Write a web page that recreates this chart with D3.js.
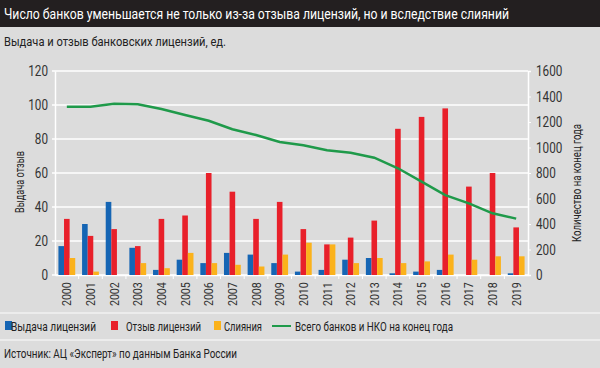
<!DOCTYPE html>
<html>
<head>
<meta charset="utf-8">
<script src="https://cdn.jsdelivr.net/npm/d3@7"></script>
<style>
  body { margin: 0; background: #dcdcdc; }
  svg text { font-family: "Roboto", "Liberation Sans", sans-serif; }
</style>
</head>
<body>
<div id="chart"></div>
<script>
var years = ["2000","2001","2002","2003","2004","2005","2006","2007","2008","2009",
             "2010","2011","2012","2013","2014","2015","2016","2017","2018","2019"];
var issued  = [17, 30, 43, 16, 3, 9, 7, 13, 12, 7, 2, 3, 9, 10, 1, 2, 3, 0, 0, 1];
var revoked = [33, 23, 27, 17, 33, 35, 60, 49, 33, 43, 27, 18, 22, 32, 86, 93, 98, 52, 60, 28];
var mergers = [10, 2, 0, 7, 4, 13, 7, 6, 5, 12, 19, 18, 7, 10, 7, 8, 12, 9, 11, 11];
var totalBanks = [1320, 1320, 1343, 1339, 1302, 1255, 1210, 1143, 1098, 1043,
                  1017, 978, 959, 920, 837, 732, 627, 562, 484, 442];
var leftTicks = [0, 20, 40, 60, 80, 100, 120];
var rightTicks = [0, 200, 400, 600, 800, 1000, 1200, 1400, 1600];

var W = 600, H = 368;
var margin = {top: 71, right: 72, bottom: 93, left: 55},
    width = W - margin.left - margin.right,
    height = H - margin.top - margin.bottom;

// squeeze text horizontally to mimic the condensed face of the original
function squeeze(sel, k) {
  sel.each(function() {
    var w = this.getComputedTextLength();
    d3.select(this).attr("textLength", w * k).attr("lengthAdjust", "spacingAndGlyphs");
  });
}
function fit(sel, len) {
  sel.attr("textLength", len).attr("lengthAdjust", "spacingAndGlyphs");
}

var svg = d3.select("#chart").append("svg")
    .attr("width", W).attr("height", H);

svg.append("rect").attr("width", W).attr("height", H).attr("fill", "#dcdcdc");

// title bar
svg.append("rect").attr("width", W).attr("height", 27).attr("fill", "#231f20");
svg.append("text").attr("x", 4).attr("y", 19)
  .attr("fill", "#fff").style("font-size", "14px")
  .text("Число банков уменьшается не только из-за отзыва лицензий, но и вследствие слияний")
  .call(fit, 505);
svg.append("text").attr("x", 4).attr("y", 46)
  .attr("fill", "#222").style("font-size", "13px")
  .text("Выдача и отзыв банковских лицензий, ед.")
  .call(fit, 222);

var g = svg.append("g")
  .attr("transform", "translate(" + margin.left + "," + margin.top + ")");

var x = d3.scaleBand().domain(years).range([0, width]).padding(0);
var bw = 5.6;
var y = d3.scaleLinear().domain([0, 120]).range([height, 0]);
var y2 = d3.scaleLinear().domain([0, 1600]).range([height, 0]);

// grid
g.selectAll(".grid").data(leftTicks).enter().append("line")
  .attr("x1", -3).attr("x2", width)
  .attr("y1", function(d) { return y(d); }).attr("y2", function(d) { return y(d); })
  .attr("stroke", "#fff").attr("stroke-width", 1.5);

// left axis
var yAxis = g.append("g").call(d3.axisLeft(y).tickValues(leftTicks).tickSize(0).tickPadding(7));
yAxis.select(".domain").attr("stroke", "#fff").attr("stroke-width", 1.5);
yAxis.selectAll("text").style("font-size", "15px").attr("fill", "#333").call(squeeze, 0.78);

// right axis
var y2Axis = g.append("g").attr("transform", "translate(" + width + ",0)")
  .call(d3.axisRight(y2).tickValues(rightTicks).tickFormat(d3.format("d")).tickSize(3).tickPadding(5));
y2Axis.select(".domain").attr("stroke", "#fff").attr("stroke-width", 1.5);
y2Axis.selectAll("line").attr("stroke", "#fff");
y2Axis.selectAll("text").style("font-size", "15px").attr("fill", "#333").call(squeeze, 0.78);

// x axis
var xAxis = g.append("g").attr("transform", "translate(0," + height + ")")
  .call(d3.axisBottom(x).tickSize(0).tickPadding(0));
xAxis.select(".domain").attr("stroke", "#fff").attr("stroke-width", 1.5);
xAxis.selectAll("text")
  .style("font-size", "13px").attr("fill", "#333")
  .style("text-anchor", "end")
  .attr("dx", "-0.55em").attr("dy", "0.35em")
  .attr("transform", "rotate(-90)")
  .call(squeeze, 0.82);
g.selectAll(".xtick").data(years.slice(1)).enter().append("line")
  .attr("x1", function(d) { return x(d); }).attr("x2", function(d) { return x(d); })
  .attr("y1", height).attr("y2", height + 4)
  .attr("stroke", "#fff").attr("stroke-width", 1);

// bars
var series = [
  {vals: issued, color: "#1565b4", off: 0},
  {vals: revoked, color: "#e8202a", off: 1},
  {vals: mergers, color: "#fbb21b", off: 2}
];
series.forEach(function(s) {
  g.selectAll(null).data(s.vals).enter().append("rect")
    .attr("x", function(d, i) { return x(years[i]) + x.bandwidth() / 2 - 1.5 * bw + s.off * bw; })
    .attr("y", function(d) { return y(d); })
    .attr("width", bw)
    .attr("height", function(d) { return height - y(d); })
    .attr("fill", s.color);
});

// line
g.append("path").datum(totalBanks)
  .attr("fill", "none").attr("stroke", "#1f9a4a").attr("stroke-width", 2.5)
  .attr("d", d3.line()
    .x(function(d, i) { return x(years[i]) + x.bandwidth() / 2; })
    .y(function(d) { return y2(d); }));

// axis titles
svg.append("text").attr("transform", "translate(24,182) rotate(-90)")
  .attr("text-anchor", "middle").style("font-size", "13px").attr("fill", "#222")
  .text("Выдача отзыв").call(fit, 62);
svg.append("text").attr("transform", "translate(581,183) rotate(-90)")
  .attr("text-anchor", "middle").style("font-size", "13px").attr("fill", "#222")
  .text("Количество на конец года").call(fit, 118);

// separators
svg.append("line").attr("x1", 0).attr("x2", W).attr("y1", 313).attr("y2", 313)
  .attr("stroke", "#f2f2f2").attr("stroke-width", 1.5);
svg.append("line").attr("x1", 0).attr("x2", W).attr("y1", 340).attr("y2", 340)
  .attr("stroke", "#f2f2f2").attr("stroke-width", 1.5);

// legend
var legend = [
  {label: "Выдача лицензий", color: "#1565b4", x: 5, tx: 11, len: 85, type: "box"},
  {label: "Отзыв лицензий", color: "#e8202a", x: 111, tx: 126, len: 75, type: "box"},
  {label: "Слияния", color: "#fbb21b", x: 214, tx: 224, len: 38, type: "box"},
  {label: "Всего банков и НКО на конец года", color: "#1f9a4a", x: 272, tx: 295, len: 158, type: "line"}
];
var lg = svg.append("g").attr("transform", "translate(0,326)");
legend.forEach(function(d) {
  if (d.type === "box") {
    lg.append("rect").attr("x", d.x).attr("y", -5).attr("width", 7).attr("height", 9).attr("fill", d.color);
  } else {
    lg.append("line").attr("x1", d.x).attr("x2", d.x + 19).attr("y1", 0).attr("y2", 0)
      .attr("stroke", d.color).attr("stroke-width", 2);
  }
  lg.append("text").attr("x", d.tx).attr("y", 4.5)
    .style("font-size", "13px").attr("fill", "#222").text(d.label).call(fit, d.len);
});

svg.append("text").attr("x", 4).attr("y", 358)
  .style("font-size", "13px").attr("fill", "#222")
  .text("Источник: АЦ «Эксперт» по данным Банка России")
  .call(fit, 233);
</script>
</body>
</html>
